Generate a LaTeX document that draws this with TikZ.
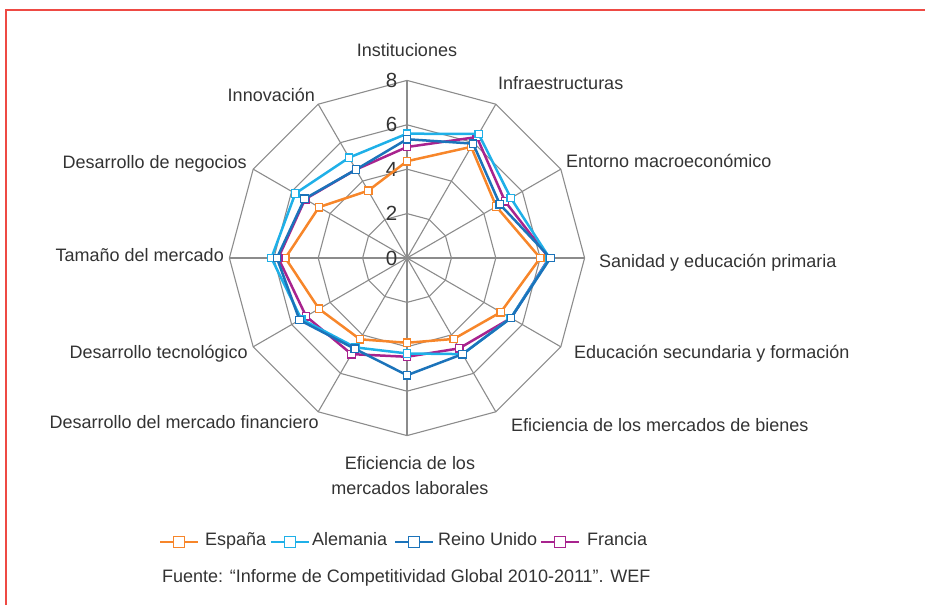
\documentclass[tikz,border=0pt]{standalone}
\usepackage{fontspec}
\setmainfont{Liberation Sans}
\definecolor{Espana}{HTML}{F7862A}
\definecolor{Alemania}{HTML}{1FB0E8}
\definecolor{ReinoUnido}{HTML}{1B73BA}
\definecolor{Francia}{HTML}{A8238E}
\definecolor{GridGray}{HTML}{8C8C8C}
\definecolor{TextGray}{HTML}{333333}
\definecolor{FrameRed}{HTML}{EE4A44}
\usetikzlibrary{calc}
\tikzset{
  gridline/.style={draw=GridGray,line width=1.1pt},
  serieline/.style={line width=2.5pt,line join=round},
  markbox/.style={rectangle,fill=white,line width=1.3pt,minimum size=7.5pt,inner sep=0pt},
  legbox/.style={rectangle,fill=white,line width=1.2pt,minimum size=10.5pt,inner sep=0pt},
  legline/.style={line width=1.4pt},
  catlabel/.style={inner sep=0pt,text=TextGray},
  ticklabel/.style={inner sep=0pt,text=TextGray,anchor=east,font=\fontsize{20.5}{20.5}\selectfont}
}
\newcommand{\radarserie}[3]{%
  \foreach \v [count=\i] in {#3} {\coordinate (#1\i) at ({120-30*\i}:\v);}
  \draw[serieline,#2] (#11) \foreach \i in {2,...,12} {-- (#1\i)} -- cycle;
  \foreach \i in {1,...,12} \node[markbox,draw=#2] (#1m\i) at (#1\i) {};
}

\begin{document}
\begin{tikzpicture}[x=1pt,y=1pt,font=\fontsize{18}{25}\selectfont]
  \useasboundingbox (0,0) rectangle (925,605);
  \draw[FrameRed,line width=1.8pt] (6,0) -- (6,595) -- (925,595);

  \begin{scope}[shift={(407pt,347pt)},x=22.2pt,y=22.2pt]
    \foreach \r in {2,4,6,8}
      \draw[gridline] (0:\r) \foreach \a in {30,60,...,330} {-- (\a:\r)} -- cycle;
    \foreach \a in {0,30,...,330}
      \draw[gridline] (0,0) -- (\a:8);
    \foreach \v in {0,2,4,6,8}
      \node[ticklabel] (tick\v) at (-0.43,\v) {\v};

    \radarserie{esp}{Espana}{4.36,5.78,4.64,6.0,4.88,4.21,3.82,4.23,4.58,5.48,4.58,3.5}
    \radarserie{fra}{Francia}{5.0,6.29,5.1,6.4,5.41,4.7,4.45,5.0,5.25,5.8,5.3,4.6}
    \radarserie{ale}{Alemania}{5.6,6.45,5.4,6.42,5.4,5.0,4.3,4.65,5.5,6.11,5.81,5.22}
    \radarserie{ru}{ReinoUnido}{5.35,5.95,4.83,6.46,5.41,5.0,5.28,4.72,5.59,5.86,5.33,4.6}
  \end{scope}

  \node[catlabel,anchor=base] (inst) at (407,548) {Instituciones};
  \node[catlabel,anchor=base west] (infra) at (498,515) {Infraestructuras};
  \node[catlabel,anchor=base west] (macro) at (566,437) {Entorno macroeconómico};
  \node[catlabel,anchor=base west] (sanidad) at (599,337) {Sanidad y educación primaria};
  \node[catlabel,anchor=base west] (edusec) at (574,246) {Educación secundaria y formación};
  \node[catlabel,anchor=base west] (bienes) at (511,174) {Eficiencia de los mercados de bienes};
  \node[catlabel,align=center] (laboral) at (410,129) {Eficiencia de los\\mercados laborales};
  \node[catlabel,anchor=base east] (financ) at (319,176) {Desarrollo del mercado financiero};
  \node[catlabel,anchor=base east] (tecno) at (248,246) {Desarrollo tecnológico};
  \node[catlabel,anchor=base east] (tamano) at (224,343) {Tamaño del mercado};
  \node[catlabel,anchor=base east] (negocios) at (247,436) {Desarrollo de negocios};
  \node[catlabel,anchor=base east] (innov) at (315,503) {Innovación};

  \foreach \key/\xa/\xt/\txt in {Espana/160/205/España,Alemania/271/312/Alemania,
      ReinoUnido/395/438/Reino Unido,Francia/541/587/Francia} {
    \coordinate (lg\key-a) at (\xa,63);
    \coordinate (lg\key-b) at (\xa+38,63);
    \draw[legline,\key] (lg\key-a) -- (lg\key-b);
    \node[legbox,draw=\key] (lg\key-m) at ($(lg\key-a)!.5!(lg\key-b)$) {};
    \node[catlabel,anchor=base west] (lg\key-t) at (\xt,60) {\txt};
  }
  \node[catlabel,anchor=base west] (fuente) at (162,23) {Fuente: “Informe de Competitividad Global 2010-2011”. WEF};
\end{tikzpicture}
\end{document}
